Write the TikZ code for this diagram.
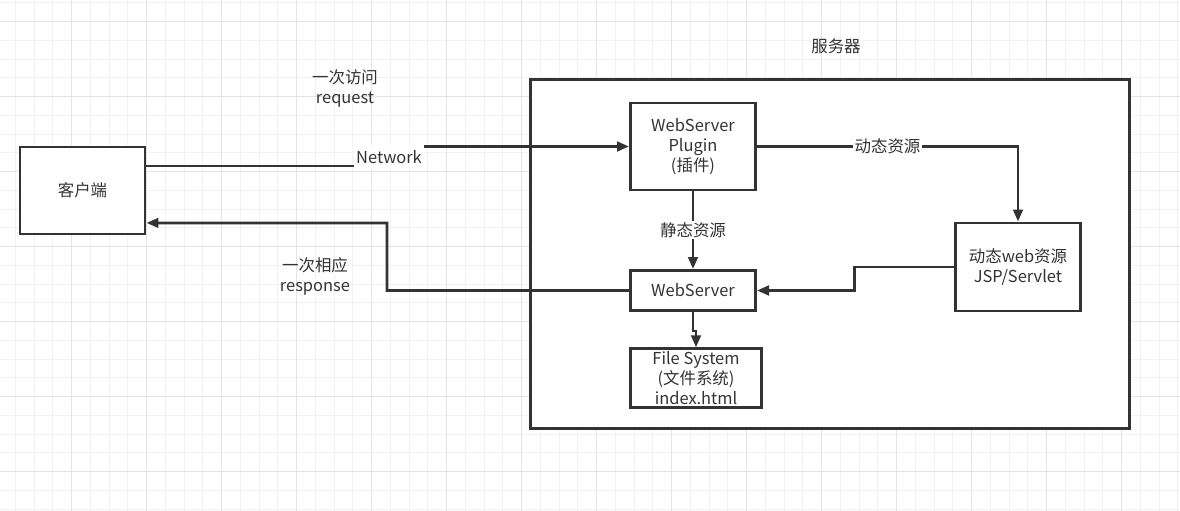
\documentclass[tikz,border=0pt]{standalone}
\usepackage{fontspec}
\setmainfont{Noto Sans CJK SC}
\usetikzlibrary{arrows.meta,calc}
\definecolor{ink}{HTML}{333333}
\definecolor{gridminor}{HTML}{F2F2F2}
\definecolor{gridmajor}{HTML}{E4E4E4}

\begin{document}
\begin{tikzpicture}[x=0.025cm, y=-0.025cm, >={Triangle[length=3mm,width=2.4mm]},
    every node/.style={text=ink, font=\fontsize{11.7pt}{14.2pt}\selectfont}]
      \tikzset{
	  box/.style={draw=ink, line width=2.1pt, fill=white, align=center, inner sep=0pt},
	  tag/.style={fill=white, inner sep=1pt},
	  note/.style={align=center},
	  link/.style={draw=ink, line width=2pt},
      }
      \useasboundingbox (0,0) rectangle (1180,511);
      \fill[white] (0,0) rectangle (1180,511);
      % background grid
      \foreach \i in {0,...,63} \draw[gridminor, line width=0.7pt] ({-3.3+18.75*\i},0) -- ++(0,511);
      \foreach \i in {0,...,27} \draw[gridminor, line width=0.7pt] (0,{2.95+18.75*\i}) -- ++(1180,0);
      \foreach \i in {1,...,16} \draw[gridmajor, line width=0.7pt] ({-3.3+75*\i},0) -- ++(0,511);
      \foreach \i in {0,...,6} \draw[gridmajor, line width=0.7pt] (0,{21.7+75*\i}) -- ++(1180,0);

      \node (client) at (82.5,190.5) [box, minimum width=3.125cm, minimum height=2.175cm] {客户端};
      \node (srv) at (830,254) [box, minimum width=14.95cm, minimum height=8.7cm] {};
      \node (srvtitle) at (836,46) [note] {服务器};

      \node (plugin) at (693,146.5) [box, minimum width=3.125cm, minimum height=2.175cm] {WebServer\\Plugin\\(插件)};
      \node (ws) at (693,290.5) [box, minimum width=3.125cm, minimum height=1cm] {WebServer};
      \node (fs) at (696,378) [box, minimum width=3.29cm, minimum height=1.46cm] {File System\\(文件系统)\\index.html};
      \node (dyn) at (1018,267) [box, minimum width=3.11cm, minimum height=2.2cm] {动态web资源\\JSP/Servlet};

      \node (req) at (345,88) [note] {一次访问\\request};
      \node (rsp) at (315,276) [note] {一次相应\\response};

      % request
      \coordinate (netstep) at (389,157);
      \draw [link,->] ([yshift=0.61cm]client.east) -| (netstep) |- (plugin.west);
      \node (net) at (netstep) [tag, minimum width=1.75cm, minimum height=0.6cm] {Network};

      % inside the server
      \draw [link,->] (plugin) -- node[tag] {静态资源} (ws);
      \draw [link,->] (ws.south) -- ++(0,19) -| (fs.north);
      \draw [link,->] (plugin.east) -| node[tag, pos=0.25] {动态资源} (dyn.north);
      \draw [link,->] (dyn.west) -- ++(-100,0) |- (ws.east);

      % response
      \coordinate (rspbend) at (387,223);
      \draw [link,->] (ws.west) -| (rspbend) -- ([yshift=-0.81cm]client.east);
    \end{tikzpicture}
\end{document}
